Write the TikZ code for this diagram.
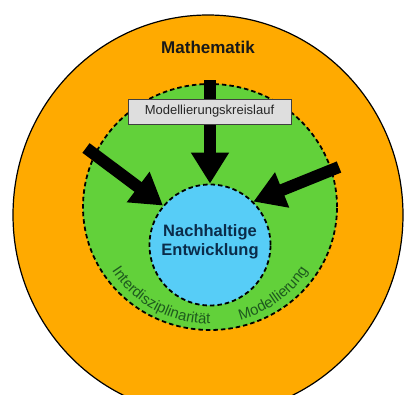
\documentclass[tikz,border=0pt]{standalone}
\usepackage{fontspec}
\setmainfont{Liberation Sans}
\usetikzlibrary{arrows.meta,shapes.geometric,decorations.text}
\definecolor{orangeM}{HTML}{FFAA00}
\definecolor{greenI}{HTML}{62D13A}
\definecolor{blueN}{HTML}{57CDF7}
\definecolor{txtgreen}{HTML}{1E5A1E}
\definecolor{txtnavy}{HTML}{0B2C4A}
\begin{document}
\begin{tikzpicture}[x=1pt,y=1pt,
  bigarrow/.style={line width=12pt, -{Triangle[width=36pt,length=31pt]}},
  ringline/.style={draw=black, line width=1.8pt, dash pattern=on 4.5pt off 3pt}]
\useasboundingbox (0,0) rectangle (404,-394);
\clip (0,0) rectangle (404,-394);
\node[ellipse, draw=black, line width=1.2pt, fill=orangeM, minimum width=390pt, minimum height=400pt, inner sep=0] (math) at (208,-215) {};
\node[ellipse, ringline, fill=greenI, minimum width=254pt, minimum height=246pt, inner sep=0] (inter) at (210,-207) {};
\node[circle, ringline, fill=blueN, minimum size=121pt, inner sep=0] (ne) at (210,-245) {};
\node[font=\fontsize{17pt}{20pt}\selectfont\bfseries, text=black!90] (mtitle) at (208,-47) {Mathematik};
\coordinate (tt) at (210,-80);
\coordinate (tl) at (86,-148);
\coordinate (tr) at (339,-167);
\draw[bigarrow] (tt) -- (ne.north);
\draw[bigarrow] (tl) -- (ne.140);
\draw[bigarrow] (tr) -- (ne.45);
\node[draw=black!75, line width=1pt, fill=black!13, minimum width=163pt, minimum height=25pt, inner sep=0, font=\fontsize{13pt}{15pt}\selectfont, text=black!85] (mk) at (209.5,-111.5) {Modellierungskreislauf};
\node[align=center, font=\fontsize{16.5pt}{19.5pt}\selectfont\bfseries, text=txtnavy] (netext) at ([yshift=3pt]ne.center) {Nachhaltige\\Entwicklung};
\path[decorate, decoration={text along path, text align=left, text color=txtgreen, text={|\fontsize{15pt}{15pt}\selectfont|Interdisziplinarität}}] ([shift={(213:117)}]inter.center) arc[start angle=213, end angle=290, radius=117];
\path[decorate, decoration={text along path, text align=left, text color=txtgreen, text={|\fontsize{15pt}{15pt}\selectfont|Modellierung}}] ([shift={(285:117)}]inter.center) arc[start angle=285, end angle=345, radius=117];
\end{tikzpicture}
\end{document}
